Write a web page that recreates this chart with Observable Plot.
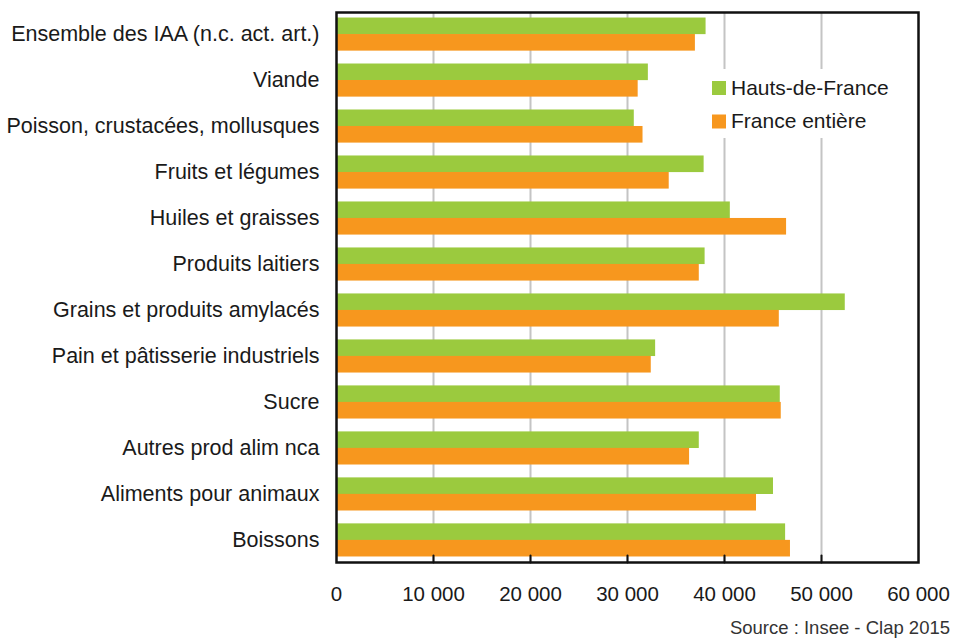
<!DOCTYPE html>
<html>
<head>
<meta charset="utf-8">
<script src="https://cdn.jsdelivr.net/npm/d3@7"></script>
<script src="https://cdn.jsdelivr.net/npm/@observablehq/plot@0.6"></script>
<style>
  html, body { margin: 0; padding: 0; background: #fff; }
  #chart { position: relative; width: 962px; height: 639px; }
  svg { font-family: "Liberation Sans", Arial, Helvetica, sans-serif; }
</style>
</head>
<body>
<div id="chart"></div>
<script>
const categories = [
  "Ensemble des IAA (n.c. act. art.)",
  "Viande",
  "Poisson, crustacées, mollusques",
  "Fruits et légumes",
  "Huiles et graisses",
  "Produits laitiers",
  "Grains et produits amylacés",
  "Pain et pâtisserie industriels",
  "Sucre",
  "Autres prod alim nca",
  "Aliments pour animaux",
  "Boissons"
];
const hautsDeFrance = [38100, 32150, 30700, 37900, 40600, 38000, 52450, 32900, 45750, 37400, 45050, 46300];
const franceEntiere = [37000, 31100, 31600, 34300, 46400, 37400, 45650, 32450, 45850, 36400, 43300, 46800];
const seriesNames = ["Hauts-de-France", "France entière"];
const seriesColors = ["#9BCA3E", "#F7971E"];
const xTicks = [0, 10000, 20000, 30000, 40000, 50000, 60000];
const sourceText = "Source : Insee - Clap 2015";

const green = categories.map((c, i) => ({cat: c, value: hautsDeFrance[i]}));
const orange = categories.map((c, i) => ({cat: c, value: franceEntiere[i]}));

const fr = d3.formatLocale({decimal: ",", thousands: " ", grouping: [3], currency: ["", " €"]});
const fmt = fr.format(",");

const BAND_HALF = 16.5;
const tickShape = {draw(context, l) { context.moveTo(0, 0); context.lineTo(0, -l); }};

const plot = Plot.plot({
  width: 962,
  height: 639,
  marginLeft: 336,
  marginRight: 44,
  marginTop: 12,
  marginBottom: 77,
  style: {fontFamily: '"Liberation Sans", Arial, sans-serif', color: "#1a1a1a", background: "#fff"},
  x: {domain: [0, 60000], label: null},
  y: {domain: categories, paddingInner: 0.28, paddingOuter: 0.12, round: false, label: null},
  marks: [
    Plot.gridX(xTicks.slice(1, -1), {stroke: "#c4c4c4", strokeOpacity: 1, strokeWidth: 2}),
    Plot.barX(green, {x1: 0, x2: "value", y: "cat", fill: seriesColors[0], insetBottom: BAND_HALF}),
    Plot.barX(orange, {x1: 0, x2: "value", y: "cat", fill: seriesColors[1], insetTop: BAND_HALF}),
    Plot.axisY({tickSize: 0, tickPadding: 17, fontSize: 21.5, label: null}),
    Plot.axisX(xTicks, {tickSize: 0, tickPadding: 24, tickFormat: fmt, fontSize: 20.5, label: null}),
    Plot.vector(xTicks.slice(1, -1), {x: d => d, frameAnchor: "bottom", length: 7, anchor: "start",
      shape: tickShape, stroke: "#111", strokeWidth: 2}),
    Plot.frame({stroke: "#111", strokeWidth: 2.5})
  ]
});

document.getElementById("chart").appendChild(plot);

// legend and source
const svg = d3.select(plot);
const lg = svg.append("g").attr("font-size", 21).attr("fill", "#1a1a1a").attr("text-anchor", "start");
lg.append("rect").attr("x", 703).attr("y", 69).attr("width", 200).attr("height", 69).attr("fill", "#fff");
seriesNames.forEach((name, i) => {
  const y0 = 81 + i * 33.5;
  lg.append("rect").attr("x", 712).attr("y", y0).attr("width", 14).attr("height", 14).attr("fill", seriesColors[i]);
  lg.append("text").attr("x", 731).attr("y", y0 + 13.5).attr("text-anchor", "start").text(name);
});
svg.append("text")
  .attr("x", 950).attr("y", 634)
  .attr("text-anchor", "end")
  .attr("font-size", 18.5)
  .attr("fill", "#333")
  .text(sourceText);
</script>
</body>
</html>
